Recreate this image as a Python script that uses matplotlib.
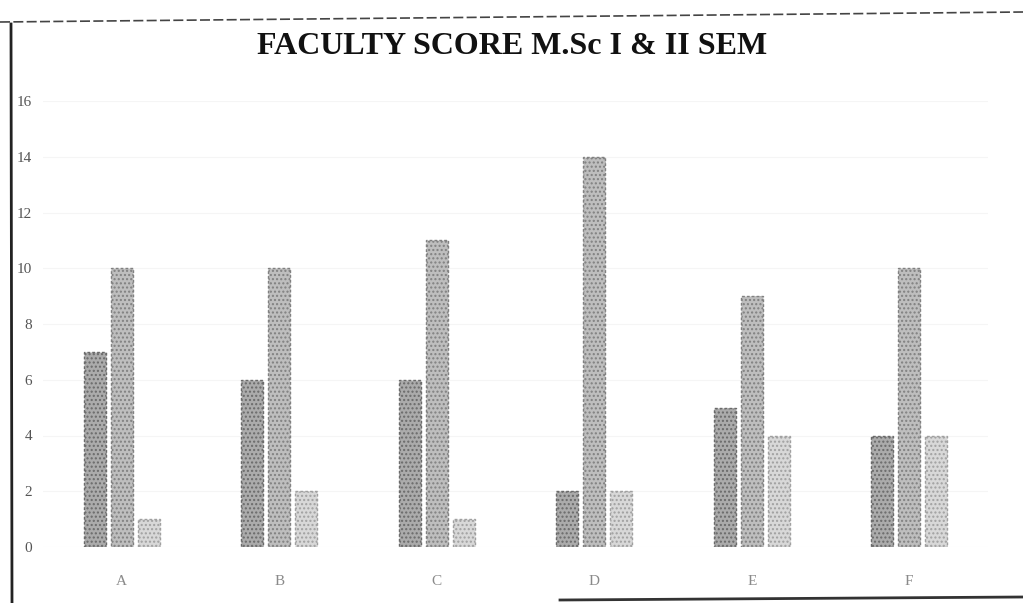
import matplotlib
matplotlib.use("Agg")
import matplotlib.pyplot as plt
import numpy as np
from matplotlib.lines import Line2D

categories = ["A", "B", "C", "D", "E", "F"]
series1 = [7, 6, 6, 2, 5, 4]
series2 = [10, 10, 11, 14, 9, 10]
series3 = [1, 2, 1, 2, 4, 4]
yticks = [0, 2, 4, 6, 8, 10, 12, 14, 16]
title = "FACULTY SCORE M.Sc I & II SEM"

plt.rcParams['font.family'] = ['Liberation Serif', 'DejaVu Serif']
plt.rcParams['hatch.color'] = '#8a8a8a'

fig = plt.figure(figsize=(10.23, 6.03), dpi=100)
ax = fig.add_axes([43/1023, 1 - 547/603, 945/1023, 446/603])

x = np.arange(len(categories))
w = 0.14
step = 0.172
colors = ['#ababab', '#bebebe', '#d8d8d8']
edges = ['#6a6a6a', '#808080', '#a0a0a0']
for i, (vals, c, e) in enumerate(zip([series1, series2, series3], colors, edges)):
    ax.bar(x + (i - 1) * step, vals, width=w, color=c, edgecolor=e,
           linewidth=1.0, linestyle=(0, (2, 1.5)), hatch='....', zorder=3)

ax.set_xlim(-0.5, len(categories) - 0.5)
ax.set_ylim(0, 16)
ax.set_yticks(yticks)
ax.set_yticklabels([str(t) for t in yticks], color='#555555', fontsize=11)
ax.set_xticks(x)
ax.set_xticklabels(categories, color='#8a8a8a', fontsize=11)
ax.tick_params(length=0)
ax.tick_params(axis='y', pad=8)
ax.tick_params(axis='x', pad=20)
for s in ax.spines.values():
    s.set_visible(False)
ax.yaxis.grid(True, color='#f5f5f5', linewidth=0.8, zorder=0)

fig.text(512 / 1023, 1 - 47 / 603, title, ha='center', va='center',
         fontsize=23, fontweight='bold', color='#111111')

# scanned page border
fig.add_artist(Line2D([11 / 1023, 12 / 1023], [1 - 24 / 603, 0], color='#222222', lw=2.0))
fig.add_artist(Line2D([0, 1], [1 - 22 / 603, 1 - 12 / 603], color='#444444', lw=1.2,
                      linestyle=(0, (6, 2))))
fig.add_artist(Line2D([560 / 1023, 1], [3 / 603, 6 / 603],
                      color='#333333', lw=2.0))

fig.savefig("out.png", dpi=100)
